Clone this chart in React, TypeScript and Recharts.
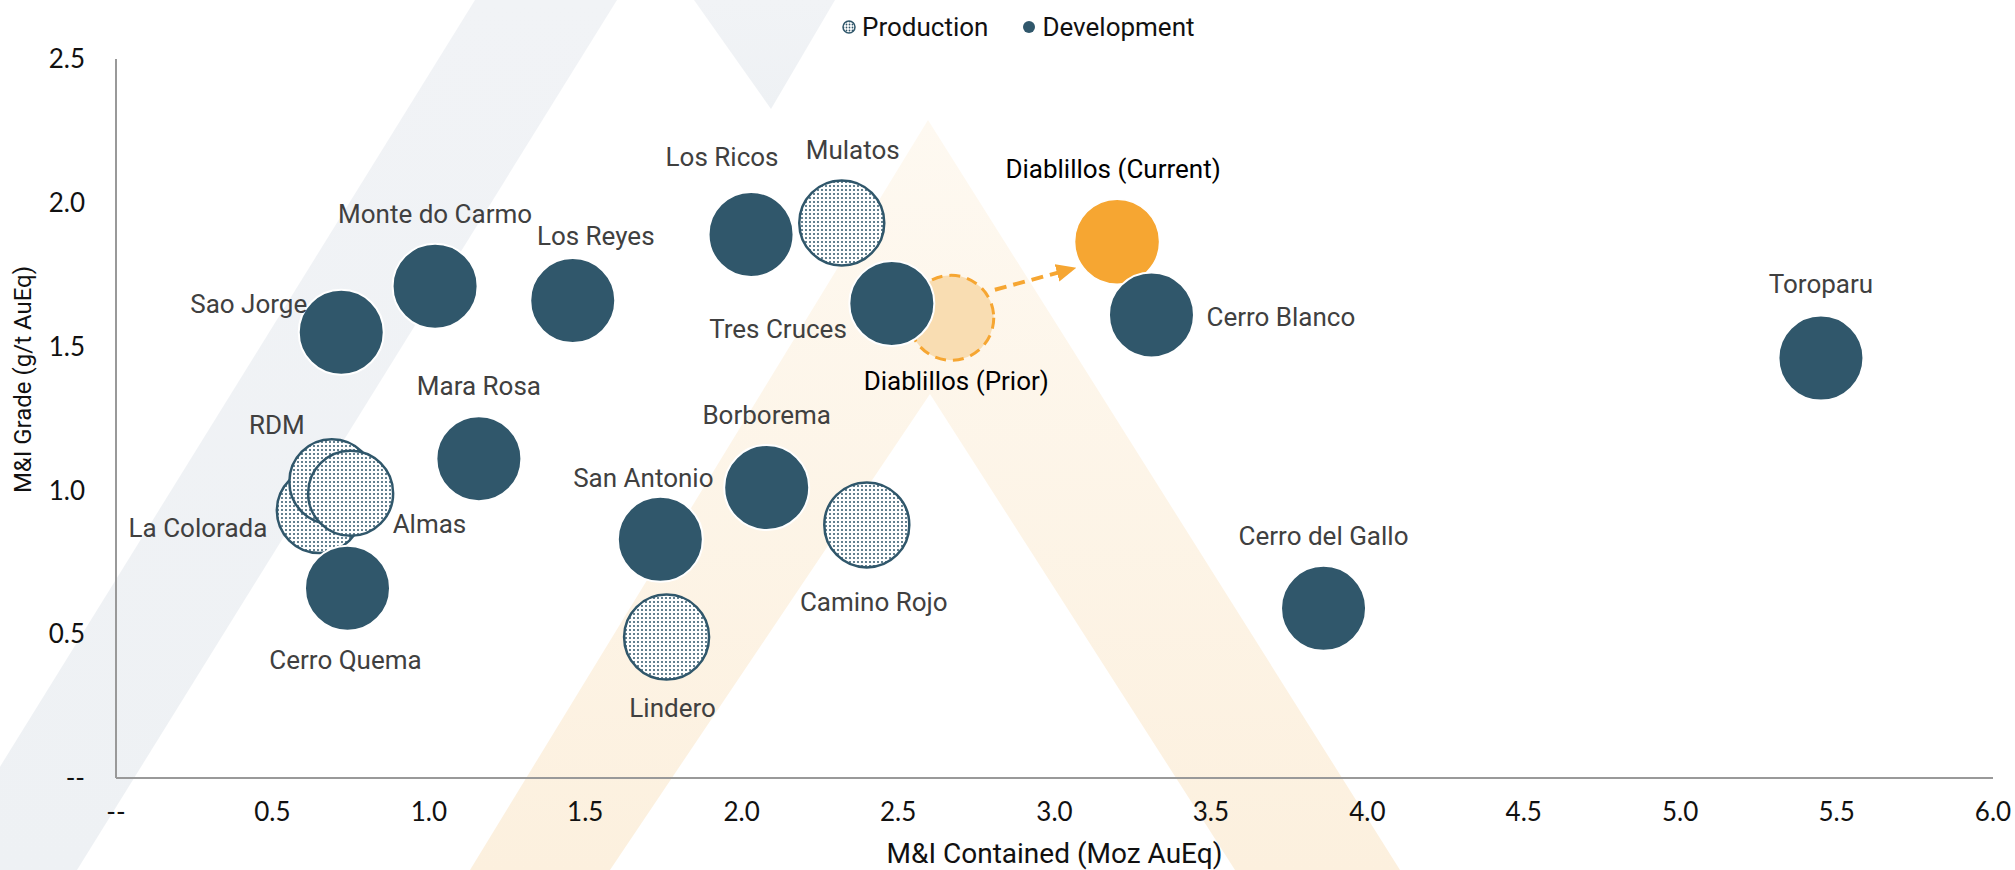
import { ScatterChart, Scatter, XAxis, YAxis, ReferenceLine } from "recharts";

// M&I contained (Moz AuEq) vs M&I grade (g/t AuEq)
const productionNames = ["La Colorada", "RDM", "Almas", "Mulatos", "Camino Rojo", "Lindero"];
const productionX = [0.65, 0.69, 0.75, 2.32, 2.4, 1.76];
const productionY = [0.93, 1.03, 0.99, 1.93, 0.88, 0.49];

const developmentNames = [
  "Sao Jorge", "Monte do Carmo", "Los Reyes", "Los Ricos", "Tres Cruces", "Cerro Blanco",
  "Toroparu", "Mara Rosa", "Cerro Quema", "San Antonio", "Borborema", "Cerro del Gallo",
];
const developmentX = [0.72, 1.02, 1.46, 2.03, 2.48, 3.31, 5.45, 1.16, 0.74, 1.74, 2.08, 3.86];
const developmentY = [1.55, 1.71, 1.66, 1.89, 1.65, 1.61, 1.46, 1.11, 0.66, 0.83, 1.01, 0.59];

const priorName = "Diablillos (Prior)";
const priorX = 2.67;
const priorY = 1.6;
const currentName = "Diablillos (Current)";
const currentX = 3.2;
const currentY = 1.865;

const xTicks = [0, 0.5, 1, 1.5, 2, 2.5, 3, 3.5, 4, 4.5, 5, 5.5, 6];
const yTicks = [0, 0.5, 1, 1.5, 2, 2.5];

// label placement relative to bubble centre: [dx, dy, anchor]
const labelPlacement: Record<string, [number, number, "start" | "middle" | "end"]> = {
  "Sao Jorge": [-34, -28, "end"],
  "Monte do Carmo": [0, -72, "middle"],
  "Los Reyes": [23, -65, "middle"],
  "Los Ricos": [-29, -77, "middle"],
  Mulatos: [11, -73, "middle"],
  "Diablillos (Current)": [-4, -73, "middle"],
  "Tres Cruces": [-45, 26, "end"],
  "Diablillos (Prior)": [5, 63, "middle"],
  "Cerro Blanco": [55, 2, "start"],
  Toroparu: [0, -74, "middle"],
  "Mara Rosa": [0, -73, "middle"],
  RDM: [-55, -57, "middle"],
  "La Colorada": [-52, 17, "end"],
  Almas: [42, 31, "start"],
  "Cerro Quema": [-2, 72, "middle"],
  "San Antonio": [-17, -61, "middle"],
  Borborema: [0, -73, "middle"],
  "Camino Rojo": [7, 77, "middle"],
  Lindero: [6, 71, "middle"],
  "Cerro del Gallo": [0, -72, "middle"],
};

const DEV = "#30576B";
const ORANGE = "#F6A632";
const R = 42.5;

const toRows = (names: string[], xs: number[], ys: number[]) =>
  names.map((name, i) => ({ name, x: xs[i], y: ys[i] }));

const productionData = toRows(productionNames, productionX, productionY);
const developmentData = toRows(developmentNames, developmentX, developmentY);
const priorData = [{ name: priorName, x: priorX, y: priorY }];
const currentData = [{ name: currentName, x: currentX, y: currentY }];

const makeBubble =
  (style: { fill: string; stroke: string; strokeWidth: number; dash?: string; text: string }) =>
  (props: any) => {
    const { cx, cy, payload } = props;
    const [dx, dy, anchor] = labelPlacement[payload.name] || [0, -70, "middle"];
    return (
      <g>
        <circle
          cx={cx}
          cy={cy}
          r={R}
          fill={style.fill}
          stroke={style.stroke}
          strokeWidth={style.strokeWidth}
          strokeDasharray={style.dash}
        />
        <text
          x={cx + dx}
          y={cy + dy}
          textAnchor={anchor}
          dominantBaseline="central"
          fontFamily="Roboto"
          fontSize={26}
          fill={style.text}
        >
          {payload.name}
        </text>
      </g>
    );
  };

const ArrowShape = (props: any) => {
  const { x1, y1, x2, y2 } = props;
  if ([x1, y1, x2, y2].some((v) => v == null || isNaN(v))) return <g />;
  const len = Math.hypot(x2 - x1, y2 - y1);
  const ux = (x2 - x1) / len;
  const uy = (y2 - y1) / len;
  const sx = x1 + ux * 48;
  const sy = y1 + uy * 48 - 8;
  const ex = x2 - ux * 64;
  const ey = y2 - uy * 64 + 4;
  return (
    <line
      x1={sx}
      y1={sy}
      x2={ex}
      y2={ey}
      stroke={ORANGE}
      strokeWidth={4}
      strokeDasharray="12 7"
      markerEnd="url(#arrowHead)"
    />
  );
};

const YTitle = (props: any) => {
  const vb = props.viewBox || { x: 0, y: 0, width: 0, height: 0 };
  const x = vb.x + 23;
  const y = vb.y + vb.height / 2 - 39;
  return (
    <text
      x={x}
      y={y}
      transform={`rotate(-90 ${x} ${y})`}
      textAnchor="middle"
      dominantBaseline="central"
      fontFamily="Roboto"
      fontSize={24}
      fill="#111"
    >
      M&I Grade (g/t AuEq)
    </text>
  );
};

function Watermark() {
  return (
    <svg width={2015} height={870} style={{ position: "absolute", left: 0, top: 0 }}>
      <defs>
        <linearGradient id="greyFade" x1="0" y1="0" x2="0" y2="1">
          <stop offset="0" stopColor="#F1F3F6" />
          <stop offset="1" stopColor="#EEF1F4" />
        </linearGradient>
        <linearGradient id="peachFade" x1="0" y1="0" x2="0" y2="1">
          <stop offset="0" stopColor="#FEF9F1" />
          <stop offset="1" stopColor="#FCF0DE" />
        </linearGradient>
      </defs>
      <polygon points="475,0 617,0 77,870 -64,870" fill="url(#greyFade)" />
      <polygon points="694,0 835,0 771,109" fill="url(#greyFade)" />
      <polygon
        points="928,120 1400,870 1235,870 930,394 610,870 470,870"
        fill="url(#peachFade)"
      />
    </svg>
  );
}

function LegendBox() {
  return (
    <div
      style={{
        position: "absolute",
        left: 842,
        top: 12,
        display: "flex",
        alignItems: "center",
        fontFamily: "Roboto",
        fontSize: 26,
        color: "#111",
      }}
    >
      <svg width={14} height={14} style={{ marginRight: 6 }}>
        <defs>
          <pattern id="legendDots" width={3} height={3} patternUnits="userSpaceOnUse">
            <rect width={3} height={3} fill="#fff" />
            <circle cx={1.5} cy={1.5} r={0.9} fill={DEV} />
          </pattern>
        </defs>
        <circle cx={7} cy={7} r={6} fill="url(#legendDots)" stroke={DEV} strokeWidth={1.5} />
      </svg>
      <span>Production</span>
      <svg width={14} height={14} style={{ marginLeft: 34, marginRight: 6 }}>
        <circle cx={7} cy={7} r={6} fill={DEV} />
      </svg>
      <span>Development</span>
    </div>
  );
}

export default function App() {
  return (
    <div
      style={{ position: "fixed", left: 0, top: 0, width: 2015, height: 870, background: "#fff" }}
    >
      <Watermark />
      <LegendBox />
      <ScatterChart
        width={2015}
        height={870}
        margin={{ top: 59, right: 22, bottom: 0, left: 0 }}
        style={{ position: "absolute", left: 0, top: 0 }}
      >
        <defs>
          <pattern id="dots" width={4} height={4} patternUnits="userSpaceOnUse">
            <rect width={4} height={4} fill="#fff" />
            <circle cx={2} cy={2} r={1} fill={DEV} />
          </pattern>
          <marker
            id="arrowHead"
            markerWidth={20}
            markerHeight={20}
            refX={2}
            refY={9}
            orient="auto"
            markerUnits="userSpaceOnUse"
          >
            <path d="M0,0 L20,9 L0,18 Z" fill={ORANGE} />
          </marker>
        </defs>
        <XAxis
          type="number"
          dataKey="x"
          domain={[0, 6]}
          ticks={xTicks}
          height={92}
          tickSize={0}
          tickMargin={25}
          tickLine={false}
          axisLine={{ stroke: "#999", strokeWidth: 2 }}
          tick={{ fill: "#111", fontFamily: "Lato", fontSize: 26 }}
          tickFormatter={(v: number) => (v === 0 ? "--" : v.toFixed(1))}
          label={{
            value: "M&I Contained (Moz AuEq)",
            position: "insideBottom",
            offset: 7,
            fill: "#111",
            fontFamily: "Roboto",
            fontSize: 28,
          }}
        />
        <YAxis
          type="number"
          dataKey="y"
          domain={[0, 2.5]}
          ticks={yTicks}
          width={116}
          tickSize={0}
          tickMargin={31}
          tickLine={false}
          axisLine={{ stroke: "#999", strokeWidth: 2 }}
          tick={{ fill: "#111", fontFamily: "Lato", fontSize: 26 }}
          tickFormatter={(v: number) => (v === 0 ? "--" : v.toFixed(1))}
          label={<YTitle />}
        />
        <Scatter
          name={priorName}
          data={priorData}
          isAnimationActive={false}
          shape={makeBubble({ fill: "#F9DDB2", stroke: ORANGE, strokeWidth: 3, dash: "11 7", text: "#000" })}
        />
        <Scatter
          name={currentName}
          data={currentData}
          isAnimationActive={false}
          shape={makeBubble({ fill: ORANGE, stroke: "#fff", strokeWidth: 1.5, text: "#000" })}
        />
        <Scatter
          name="Production"
          data={productionData}
          isAnimationActive={false}
          shape={makeBubble({ fill: "url(#dots)", stroke: DEV, strokeWidth: 2.5, text: "#404040" })}
        />
        <Scatter
          name="Development"
          data={developmentData}
          isAnimationActive={false}
          shape={makeBubble({ fill: DEV, stroke: "#fff", strokeWidth: 2, text: "#404040" })}
        />
        <ReferenceLine
          segment={[
            { x: priorX, y: priorY },
            { x: currentX, y: currentY },
          ]}
          ifOverflow="visible"
          shape={ArrowShape}
        />
      </ScatterChart>
    </div>
  );
}
